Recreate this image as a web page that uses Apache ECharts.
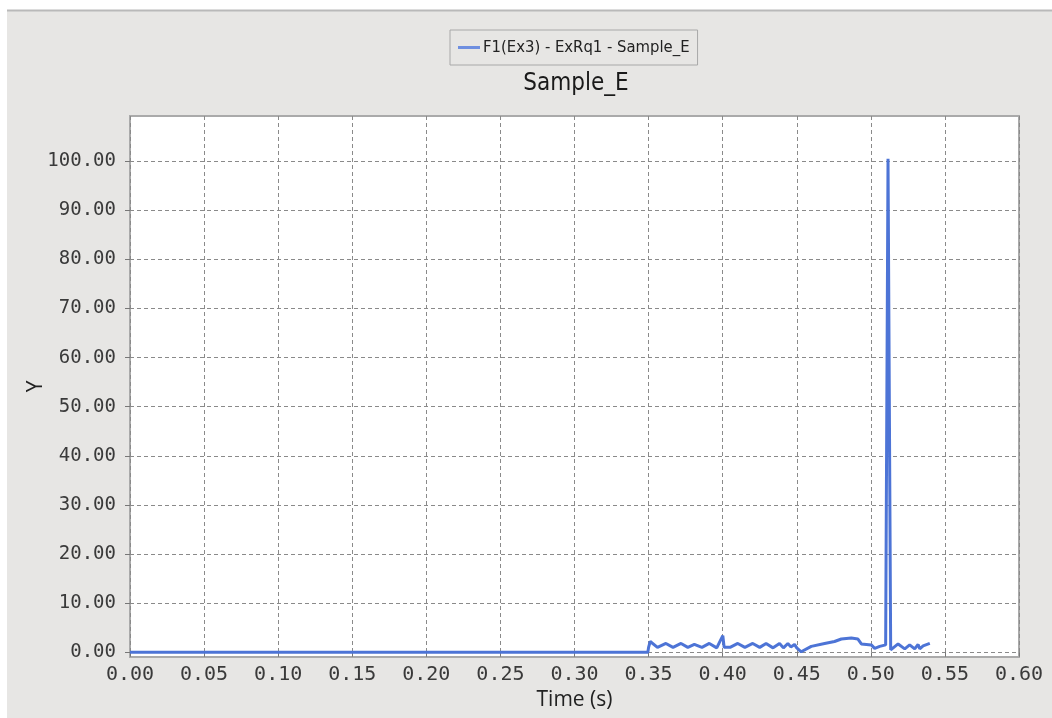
<!DOCTYPE html>
<html>
<head>
<meta charset="utf-8">
<script src="https://cdn.jsdelivr.net/npm/echarts@6/dist/echarts.min.js"></script>
<style>
html,body{margin:0;padding:0;background:#ffffff;}
#chart{width:1052px;height:718px;}
</style>
</head>
<body>
<div id="chart"></div>
<script>
var seriesName = 'F1(Ex3) - ExRq1 - Sample_E';
var chartTitle = 'Sample_E';
var times = [0.000, 0.3495, 0.3500, 0.3511, 0.3560, 0.3617, 0.3665, 0.3719, 0.3765, 0.3809,
  0.3860, 0.3910, 0.3960, 0.4001, 0.4010, 0.4050, 0.4102, 0.4150, 0.4203, 0.4250,
  0.4293, 0.4340, 0.4384, 0.4410, 0.4440, 0.4460, 0.4485, 0.4500, 0.4530, 0.4598,
  0.4688, 0.4755, 0.4801, 0.4868, 0.4913, 0.4936, 0.5003, 0.5026, 0.5060, 0.5100,
  0.5116, 0.5134, 0.5184, 0.5229, 0.5262, 0.5296, 0.5319, 0.5330, 0.5353, 0.5398];
var values = [0, 0, 1.0, 2.2, 1.0, 1.8, 1.0, 1.8, 1.0, 1.6,
  1.0, 1.8, 0.9, 3.4, 1.0, 1.0, 1.8, 1.0, 1.8, 1.0,
  1.8, 0.9, 1.8, 0.9, 1.8, 1.1, 1.6, 0.9, 0.1, 1.2,
  1.8, 2.2, 2.7, 2.9, 2.7, 1.7, 1.5, 0.8, 1.2, 1.5,
  100.5, 0.5, 1.7, 0.7, 1.5, 0.7, 1.6, 0.7, 1.3, 1.8];
var yTicks = [0, 10, 20, 30, 40, 50, 60, 70, 80, 90, 100];

var data = times.map(function (t, i) { return [t, values[i]]; });

var chart = echarts.init(document.getElementById('chart'), null, {renderer: 'canvas'});
chart.setOption({
  backgroundColor: '#ffffff',
  animation: false,
  graphic: [
    {type: 'rect', z: -10, shape: {x: 7, y: 10, width: 1045, height: 708}, style: {fill: '#e7e6e4'}},
    {type: 'line', z: -9, shape: {x1: 7, y1: 10.5, x2: 1052, y2: 10.5}, style: {stroke: '#b9b9b9', lineWidth: 2}}
  ],
  title: {
    text: chartTitle,
    left: 571, top: 67, textAlign: 'center',
    textStyle: {fontFamily: 'Liberation Sans Narrow, DejaVu Sans Condensed, sans-serif', fontSize: 24, fontWeight: 'normal', color: '#1a1a1a'}
  },
  legend: {
    data: [seriesName],
    left: 450, top: 30,
    padding: [9, 8, 9, 8],
    borderColor: '#a8a8a8', borderWidth: 1,
    backgroundColor: '#e7e6e4',
    itemWidth: 22, itemHeight: 3, itemGap: 4,
    icon: 'rect',
    textStyle: {fontFamily: 'Liberation Sans Narrow, DejaVu Sans Condensed, sans-serif', fontSize: 16.5, color: '#222', padding: [0, 0, 0, -2]}
  },
  grid: {left: 130, right: 33, top: 116, bottom: 61, show: true, backgroundColor: '#ffffff', borderColor: '#aaaaaa', borderWidth: 2},
  xAxis: {
    type: 'value', min: 0, max: 0.6, interval: 0.05,
    name: 'Time (s)', nameLocation: 'middle', nameGap: 33,
    nameTextStyle: {fontFamily: 'Open Sans, sans-serif', fontSize: 21, color: '#222'},
    axisLine: {show: false},
    axisTick: {show: true, length: 5, inside: false, lineStyle: {color: '#777', type: 'dashed'}},
    axisLabel: {margin: 8, fontFamily: 'DejaVu Sans Mono', fontSize: 20, color: '#3a3a3a', formatter: function (v) { return v.toFixed(2); }},
    splitLine: {show: true, lineStyle: {color: '#8a8a8a', type: [4, 3], width: 1}}
  },
  yAxis: {
    type: 'value', min: -0.96, max: 109.2,
    name: 'Y', nameLocation: 'middle', nameGap: 83, nameRotate: 90, nameMoveOverlap: false,
    nameTextStyle: {fontFamily: 'Open Sans, sans-serif', fontSize: 21, color: '#222'},
    axisLine: {show: false},
    axisTick: {show: true, length: 5, customValues: yTicks, lineStyle: {color: '#777'}},
    axisLabel: {margin: 14, customValues: yTicks, fontFamily: 'DejaVu Sans Mono', fontSize: 19, color: '#3a3a3a', formatter: function (v) { return v.toFixed(2); }},
    splitLine: {show: true, lineStyle: {color: '#8a8a8a', type: [4, 3], width: 1}}
  },
  series: [{
    name: seriesName,
    type: 'line',
    data: data,
    showSymbol: false,
    symbol: 'none',
    lineStyle: {color: '#4d74d6', width: 3},
    itemStyle: {color: '#6f8fe0'}
  }]
});
</script>
</body>
</html>
